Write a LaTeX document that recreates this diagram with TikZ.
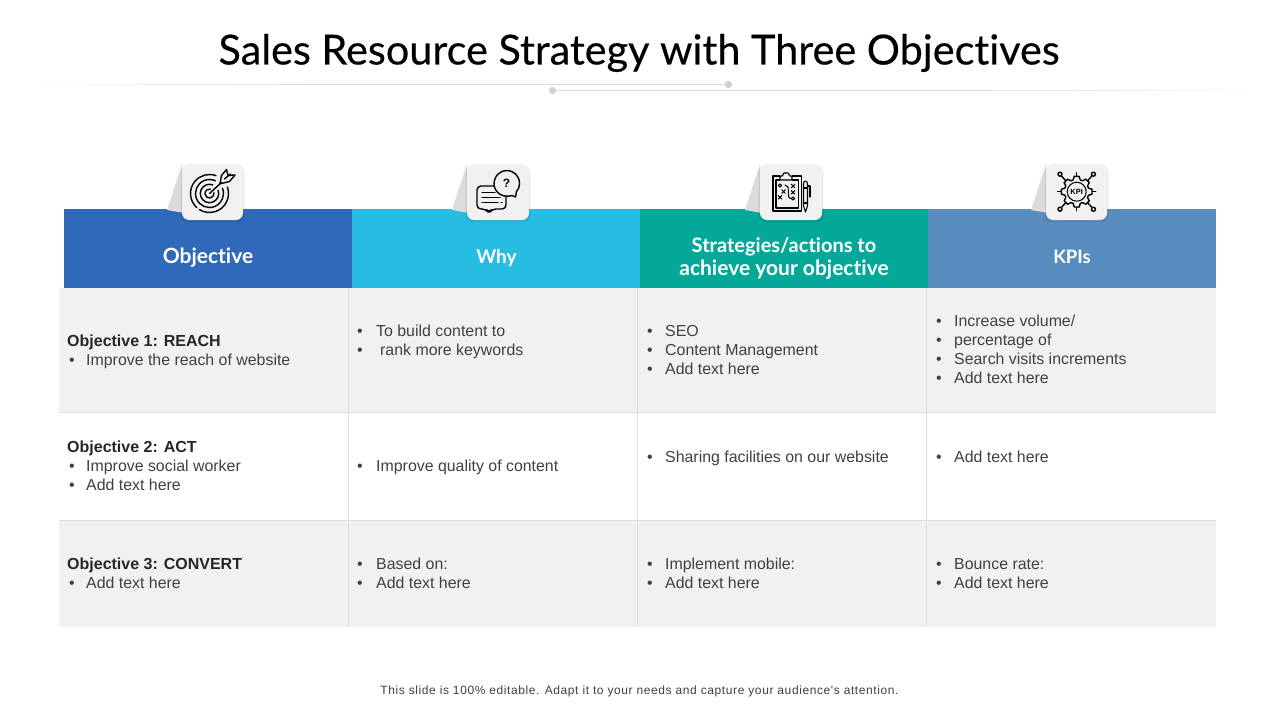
\documentclass[tikz,border=0pt]{standalone}
\usepackage{fontspec}
\setmainfont{Liberation Sans}
\newfontfamily\latofont[Ligatures=NoCommon]{Lato}
\newfontfamily\titlefont[Ligatures=NoCommon,FakeBold=0.35]{Lato}
\newfontfamily\footfont[LetterSpace=5]{Liberation Sans}
\newcounter{tn}
\definecolor{rowgray}{HTML}{F1F1F1}
\definecolor{rulegray}{HTML}{DDDDDD}
\definecolor{txtgray}{HTML}{404040}
\definecolor{foldgray}{HTML}{DCDCDC}
\definecolor{hdrA}{HTML}{3068BA}
\definecolor{hdrB}{HTML}{27BDE2}
\definecolor{hdrC}{HTML}{03A899}
\definecolor{hdrD}{HTML}{5A8DBF}
\tikzset{
  hdrtxt/.style={inner sep=0pt,anchor=base,text=white},
  bodytxt/.style={anchor=base west,inner sep=0pt,text=txtgray,font=\fontsize{15.9}{19}\selectfont},
  boldtxt/.style={anchor=base west,inner sep=0pt,text=black!85,font=\bfseries\fontsize{16}{19}\selectfont},
  icon/.style={line width=1.4pt,black,line cap=round,line join=round},
  thin icon/.style={line width=1.05pt,black,line cap=round,line join=round},
  table rule/.style={line width=1pt,rulegray},
}
\newcommand{\bl}[4]{% dot x, text x, baseline, text
  \stepcounter{tn}%
  \node[bodytxt] (b\arabic{tn}) at (#1,#3-0.2) {•};
  \node[bodytxt] (t\arabic{tn}) at (#2,#3-0.2) {#4};}
\newcommand{\ob}[2]{%
  \stepcounter{tn}%
  \node[boldtxt] (o\arabic{tn}) at (67,#1-0.2) {#2};}
\newcommand{\card}[2]{% left x of card, width
  \fill[foldgray] (#1,164) -- (#1-15,210) -- (#1+2,213) -- cycle;
  \foreach \k in {1,2,3}{\fill[black,opacity=0.03,rounded corners=7pt] (#1-\k*0.6,164+\k*0.8) rectangle (#1+#2+\k*0.6,220+\k*0.9);}
  \fill[rowgray,rounded corners=7pt] (#1,164) rectangle (#1+#2,220);}
\newcommand{\xmark}[2]{\draw[thin icon] (#1-1.7,#2-1.7) -- (#1+1.7,#2+1.7) (#1-1.7,#2+1.7) -- (#1+1.7,#2-1.7);}
\newcommand{\hfs}[1]{\latofont\bfseries\fontsize{#1}{23}\selectfont}
\begin{document}
\begin{tikzpicture}[x=1pt,y=-1pt]
\useasboundingbox (0,0) rectangle (1280,720);
\fill[white] (0,0) rectangle (1280,720);

% title and decoration
\node[inner sep=0pt,font=\titlefont\fontsize{41.4}{46}\selectfont,text=black] (title) at (639,53) {Sales Resource Strategy with Three Objectives};
\foreach \i in {0,...,29}{
  \pgfmathtruncatemacro{\m}{\i*3.3}
  \fill[rulegray!\m] (\i*10,84.1) rectangle (\i*10+10.5,84.9);
  \fill[rulegray!\m] (1280-\i*10,90.1) rectangle (1280-\i*10-10.5,90.9);
}
\fill[rulegray] (300,84.1) rectangle (728,84.9);
\fill[rulegray] (552,90.1) rectangle (980,90.9);
\fill[black!18] (728.5,84.5) circle (3.6);
\fill[black!18] (552.5,90.5) circle (3.6);

% table body
\fill[rowgray] (59,288) rectangle (1216,412);
\fill[rowgray] (59,520) rectangle (1216,627);
\draw[table rule] (59,412.5) -- (1216,412.5);
\draw[table rule] (59,520) -- (1216,520);
\foreach \x in {348.5,637.5,926.5}{\draw[table rule] (\x,288) -- (\x,627);}

% headers
\fill[hdrA] (64,209) rectangle (352,288);
\fill[hdrB] (352,209) rectangle (640,288);
\fill[hdrC] (640,209) rectangle (928,288);
\fill[hdrD] (928,209) rectangle (1216,288);
\node[hdrtxt,font=\hfs{21}] (h1) at (208,263) {Objective};
\node[hdrtxt,font=\hfs{19}] (h2) at (496.5,263) {Why};
\node[hdrtxt,font=\hfs{20}] (h3a) at (784,252) {Strategies/actions to};
\node[hdrtxt,font=\hfs{21}] (h3b) at (784,275) {achieve your objective};
\node[hdrtxt,font=\hfs{18.5}] (h4) at (1072,263) {KPIs};

% cards
\card{182}{61}
\card{467}{62}
\card{760}{62}
\card{1046}{61}

% target icon
\begin{scope}[shift={(209.5,193.5)}]
  \draw[icon] (-20:19) arc[start angle=-20,end angle=122,radius=19];
  \draw[icon] (132:19) arc[start angle=132,end angle=290,radius=19];
  \draw[icon] (-22:14) arc[start angle=-22,end angle=295,radius=14];
  \draw[icon] (-20:9.2) arc[start angle=-20,end angle=290,radius=9.2];
  \draw[icon] (-10:4.5) arc[start angle=-10,end angle=280,radius=4.5];
  \draw[icon] (0,0) -- (12,-11);
  \draw[icon] (10.5,-10) -- (12,-18) -- (17,-24) -- (18.5,-18) -- (25.5,-18.5) -- (20,-12) -- (12,-10) -- cycle;
  \draw[icon] (15,-14.5) -- (21,-19.5);
\end{scope}

% chat icon
\draw[icon] (512,195.5) .. controls (504,198) and (495,194) .. (494,184.5) .. controls (494,176) and (500,170.5) .. (506.5,170.5) .. controls (514,170.5) and (519.5,176) .. (519.5,183.5) .. controls (519.5,187) and (518.5,189.5) .. (516.5,191.5) -- (515.5,197) -- cycle;
\node[inner sep=0pt,font=\bfseries\fontsize{12}{12}\selectfont] (q) at (506.5,183) {?};
\draw[icon,rounded corners=4pt] (494,186) -- (477,186) -- (477,209) -- (486,209) -- (489,213) -- (492,209) -- (506,209) -- (506,197);
\draw[thin icon] (482,192.5) -- (495,192.5) (482,197.5) -- (500,197.5) (482,202.5) -- (498,202.5) (501,202.5) -- (502,202.5);

% clipboard icon
\draw[thin icon] (780,176) -- (773,176) -- (773,211) -- (801.5,211) -- (801.5,176) -- (792,176);
\draw[thin icon] (776,180) -- (776,208) -- (798.5,208) -- (798.5,180) -- (792,180) (780,180) -- (776,180);
\draw[thin icon,rounded corners=1pt] (780,180) -- (780,176) -- (783,176) -- (783,173) -- (789,173) -- (789,176) -- (792,176) -- (792,180) -- cycle;
\draw[thin icon] (780,185.5) circle (1.6);
\draw[thin icon] (793,198.5) circle (1.6);
\xmark{793}{186}\xmark{783.5}{191.5}\xmark{793}{192.3}\xmark{780}{197.3}
\draw[thin icon] (785,185) .. controls (788,185) and (788.5,188) .. (788.5,191) .. controls (788.5,195) and (788,198.5) .. (791,198.5);
\draw[thin icon] (803.5,184) .. controls (803.5,180) and (807.5,180) .. (807.5,184) -- (807.5,206) -- (805.5,212) -- (803.5,206) -- cycle;
\draw[thin icon] (803.5,188) -- (807.5,188) (803.5,203) -- (807.5,203) (807.5,186) -- (810,186) -- (810,197);

% KPI icon
\begin{scope}[shift={(1076.7,191.7)}]
  \foreach \a in {0,45,...,315}{
    \draw[icon] (\a-9:15.5) -- (\a+9:15.5) -- (\a+17:12.3) arc[start angle=\a+17,end angle=\a+28,radius=12.3] -- (\a+36:15.5);
  }
  \draw[thin icon] (0,0) circle (9.5);
  \node[inner sep=0pt,font=\bfseries\fontsize{7.5}{8}\selectfont] (kpi) at (0,0) {KPI};
  \foreach \a in {0,90,180,270}{\draw[icon] (\a:15.5) -- (\a:19);}
  \foreach \sx/\sy in {-1/-1,1/-1,-1/1,1/1}{
    \draw[icon] (\sx*11,\sy*11) -- (\sx*15,\sy*15.5);
    \draw[icon] (\sx*16.7,\sy*17.5) circle (2);
  }
\end{scope}

% column 1
\ob{347}{Objective 1: REACH}
\bl{69}{86}{366}{Improve the reach of website}
\ob{453}{Objective 2: ACT}
\bl{69}{86}{472}{Improve social worker}
\bl{69}{86}{491}{Add text here}
\ob{570}{Objective 3: CONVERT}
\bl{69}{86}{589}{Add text here}
% column 2
\bl{357}{376}{337}{To build content to}
\bl{357}{380}{356}{rank more keywords}
\bl{357}{376}{472}{Improve quality of content}
\bl{357}{376}{570}{Based on:}
\bl{357}{376}{589}{Add text here}
% column 3
\bl{647}{665}{337}{SEO}
\bl{647}{665}{356}{Content Management}
\bl{647}{665}{375}{Add text here}
\bl{647}{665}{463}{Sharing facilities on our website}
\bl{647}{665}{570}{Implement mobile:}
\bl{647}{665}{589}{Add text here}
% column 4
\bl{936}{954}{327}{Increase volume/}
\bl{936}{954}{346}{percentage of}
\bl{936}{954}{365}{Search visits increments}
\bl{936}{954}{384}{Add text here}
\bl{936}{954}{463}{Add text here}
\bl{936}{954}{570}{Bounce rate:}
\bl{936}{954}{589}{Add text here}

% footer
\node[inner sep=0pt,text=txtgray,font=\footfont\fontsize{12}{14}\selectfont] (foot) at (639.5,691) {This slide is 100\% editable. Adapt it to your needs and capture your audience's attention.};
\end{tikzpicture}
\end{document}
